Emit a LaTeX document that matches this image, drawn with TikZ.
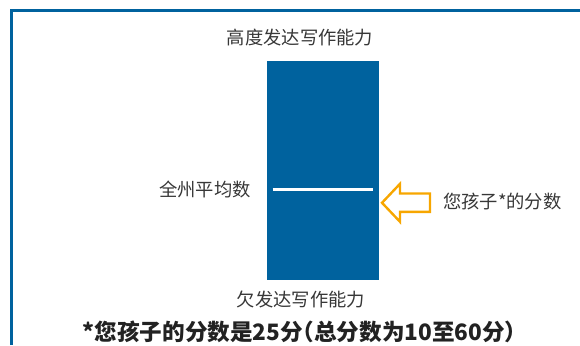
\documentclass[tikz,border=0pt]{standalone}
\usepackage{fontspec}
\setmainfont{Noto Sans CJK SC}
\usepackage{tikz}
\usetikzlibrary{positioning}
\definecolor{barblue}{RGB}{0,98,158}
\definecolor{ptrorange}{RGB}{247,166,0}
\definecolor{lblgrey}{RGB}{55,55,55}
\definecolor{notegrey}{RGB}{34,34,34}
\newcommand{\hparen}[1]{{\addfontfeature{RawFeature=+halt}#1}}

\begin{document}
\begin{tikzpicture}[x=1pt, y=-1pt,
		lbl/.style={text=lblgrey, inner sep=0pt, font=\fontsize{18.3}{20}\selectfont},
		note/.style={text=notegrey, inner sep=0pt, font=\fontsize{22.6}{25}\selectfont\bfseries},
		frame/.style={draw=barblue, line width=3pt},
		ptr/.style={draw=ptrorange, line width=2.4pt, line join=miter}]
		\useasboundingbox (0,0) rectangle (580,345);
		\draw[frame] (11.3,345) -- (11.3,11) -- (580,11);
		
		\node[fill=barblue, inner sep=0pt, minimum width=112pt, minimum height=219.5pt] (bar) at (323,170.7) {};
		\coordinate (avgL) at (272.5,189);
		\coordinate (avgR) at (372.5,189);
		\draw[white, line width=3pt] (avgL) -- (avgR);
		
		\node[lbl] (high) at (300,38) {高度发达写作能力};
		\node[lbl] (low) at (301,299.5) {欠发达写作能力};
		\node[lbl, anchor=east] (avg) at (251,189.3) {全州平均数};
		\node[lbl, anchor=west] (child) at (443,201.3) {您孩子*的分数};
		\node[note] (score) at (299.5,332) {*您孩子的分数是25分\hparen{（}总分数为10至60分\hparen{）}};
		
		% hollow pointer at the child's score
		\draw[ptr] (382,202.8) -- (400,183.8) -- (400,193.5) -- (430,193.5)
		-- (430,211.9) -- (400,211.9) -- (400,221.8) -- cycle;
\end{tikzpicture}
\end{document}
